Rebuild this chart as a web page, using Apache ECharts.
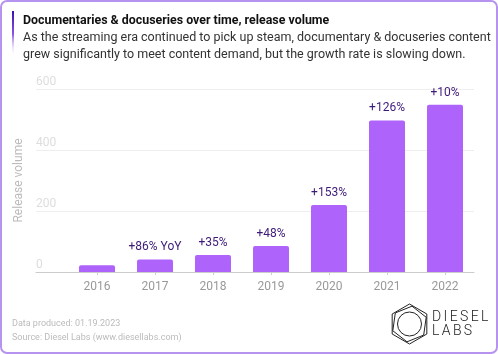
<!DOCTYPE html>
<html>
<head>
<meta charset="utf-8">
<script src="https://cdn.jsdelivr.net/npm/echarts@6/dist/echarts.min.js"></script>
<style>
  html, body { margin: 0; padding: 0; background: #fff; }
  #chart { width: 498px; height: 354px; }
</style>
</head>
<body>
<div id="chart"></div>
<script>
const years = ["2016", "2017", "2018", "2019", "2020", "2021", "2022"];
const releaseVolume = [22, 41, 56, 85, 220, 497, 548];
const yoyLabels = ["", "+86% YoY", "+35%", "+48%", "+153%", "+126%", "+10%"];
const yTicks = [0, 200, 400, 600];

const FONT = "Roboto, 'Noto Sans', sans-serif";
const chart = echarts.init(document.getElementById("chart"), null, { renderer: "canvas" });

// logo hexagon points
function hexPoints(cx, cy, r, rot) {
  const pts = [];
  for (let i = 0; i < 6; i++) {
    const a = (Math.PI / 3) * i + rot;
    pts.push([cx + r * Math.cos(a), cy + r * Math.sin(a)]);
  }
  return pts;
}

const option = {
  animation: false,
  textStyle: { fontFamily: FONT },
  title: {
    left: 18,
    top: 10,
    text: "Documentaries & docuseries over time, release volume",
    textStyle: { fontSize: 12.4, fontWeight: "bold", color: "#111", fontFamily: FONT },
    subtext: "As the streaming era continued to pick up steam, documentary & docuseries content\ngrew significantly to meet content demand, but the growth rate is slowing down.",
    subtextStyle: { fontSize: 12.5, color: "#333", lineHeight: 17, fontFamily: FONT },
    itemGap: 2
  },
  grid: [
    { left: 36, right: 24, top: 89, bottom: 82 },
    { left: 68, right: 24, top: 89, bottom: 82 }
  ],
  xAxis: [
    {
      gridIndex: 0,
      type: "category",
      data: [""],
      axisLine: { show: true, lineStyle: { color: "#cccccc", width: 1 } },
      axisTick: { show: false },
      axisLabel: { show: false }
    },
    {
      gridIndex: 1,
      type: "category",
      data: years,
      axisLine: { show: false },
      axisTick: { show: true, alignWithLabel: true, length: 3, lineStyle: { color: "#cccccc" } },
      axisLabel: { color: "#999", fontSize: 12, margin: 9 }
    }
  ],
  yAxis: [
    {
      gridIndex: 0,
      type: "value",
      min: yTicks[0],
      max: yTicks[yTicks.length - 1],
      interval: 200,
      axisLine: { show: false },
      axisTick: { show: false },
      axisLabel: {
        inside: true,
        margin: 0,
        color: "#dddddd",
        fontSize: 12,
        verticalAlign: "bottom",
        padding: [0, 0, 1, 0]
      },
      splitLine: { lineStyle: { color: "#eeeeee" } },
      name: "Release volume",
      nameLocation: "middle",
      nameGap: 10,
      nameTextStyle: { color: "#bbbbbb", fontSize: 12 }
    },
    {
      gridIndex: 1,
      type: "value",
      min: yTicks[0],
      max: yTicks[yTicks.length - 1],
      show: false,
      splitLine: { show: false }
    }
  ],
  series: [
    {
      type: "bar",
      xAxisIndex: 1,
      yAxisIndex: 1,
      data: releaseVolume,
      barWidth: 36,
      itemStyle: { color: "#ae63fa", borderRadius: [2, 2, 0, 0] },
      label: {
        show: true,
        position: "top",
        distance: 6,
        color: "#3d1a78",
        fontSize: 12,
        formatter: p => yoyLabels[p.dataIndex]
      }
    }
  ],
  graphic: [
    {
      type: "rect",
      shape: { x: 1, y: 1, width: 496, height: 352, r: 6 },
      style: { fill: null, stroke: "#b793f0", lineWidth: 2 },
      silent: true
    },
    {
      type: "rect",
      shape: { x: 12, y: 11, width: 2, height: 46 },
      style: {
        fill: new echarts.graphic.LinearGradient(0, 0, 0, 1, [
          { offset: 0, color: "#3a0fb0" },
          { offset: 0.5, color: "#8a55e6" },
          { offset: 1, color: "rgba(255,255,255,0)" }
        ])
      }
    },
    {
      type: "text",
      left: 12,
      top: 317,
      style: {
        text: "Data produced: 01.19.2023\nSource: Diesel Labs (www.diesellabs.com)",
        fill: "#bbbbbb",
        fontSize: 9,
        lineHeight: 14,
        fontFamily: FONT
      }
    },
    {
      type: "polygon",
      shape: { points: hexPoints(409.5, 324, 20, -Math.PI / 2) },
      style: { fill: null, stroke: "#222", lineWidth: 1 }
    },
    {
      type: "polygon",
      shape: { points: hexPoints(409.5, 324, 18, -Math.PI / 2 + 0.14) },
      style: { fill: null, stroke: "#222", lineWidth: 1 }
    },
    {
      type: "circle",
      shape: { cx: 409.5, cy: 324, r: 12 },
      style: { fill: null, stroke: "#222", lineWidth: 1 }
    },
    {
      type: "text",
      left: 432,
      top: 310,
      style: {
        text: "D\u2006I\u2006E\u2006S\u2006E\u2006L\nL\u2006A\u2006B\u2006S",
        fill: "#222",
        fontSize: 14,
        lineHeight: 14,
        fontWeight: 300,
        fontFamily: FONT
      }
    }
  ]
};

chart.setOption(option);
window.addEventListener("resize", () => chart.resize());
</script>
</body>
</html>
